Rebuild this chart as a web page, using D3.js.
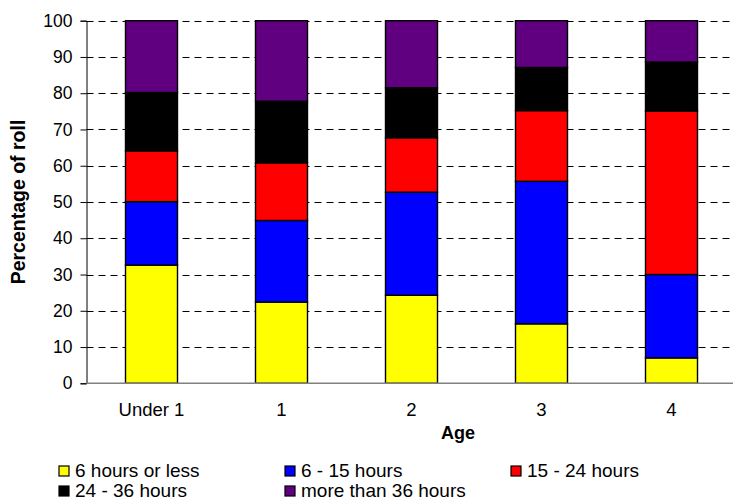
<!DOCTYPE html>
<html>
<head>
<meta charset="utf-8">
<script src="https://cdn.jsdelivr.net/npm/d3@7"></script>
<style>
body { margin: 0; background: #fff; }
svg { display: block; font-family: Arial, "Liberation Sans", sans-serif; }
</style>
</head>
<body>
<div id="chart"></div>
<script>
// Chart data
var ages = ["Under 1", "1", "2", "3", "4"];
var seriesNames = ["6 hours or less", "6 - 15 hours", "15 - 24 hours", "24 - 36 hours", "more than 36 hours"];
var seriesColors = ["#ffff00", "#0000ff", "#ff0000", "#000000", "#600080"];
var under6 = [32.6, 22.4, 24.3, 16.4, 7.0];
var h6to15 = [17.5, 22.5, 28.4, 39.3, 23.0];
var h15to24 = [14.0, 15.9, 15.0, 19.5, 45.1];
var h24to36 = [16.1, 17.0, 13.8, 11.9, 13.5];
var over36 = [19.8, 22.2, 18.5, 12.9, 11.4];
var yTicks = [0, 10, 20, 30, 40, 50, 60, 70, 80, 90, 100];

var width = 733, height = 501;
var plotLeft = 86.5, plotTop = 20.7, plotBottom = 383.3, plotRight = 736.5;

var series = [under6, h6to15, h15to24, h24to36, over36];
var rows = ages.map(function(a, i) {
    var r = {age: a};
    seriesNames.forEach(function(s, k) { r[s] = series[k][i]; });
    return r;
});
var stacked = d3.stack().keys(seriesNames)(rows);

var svg = d3.select("#chart").append("svg")
    .attr("width", width)
    .attr("height", height);

var x = d3.scaleBand().domain(ages).range([plotLeft, plotRight]).paddingInner(0.6).paddingOuter(0.3);
var y = d3.scaleLinear().domain([0, 100]).range([plotBottom, plotTop]);

// dashed gridlines
svg.append("g")
    .selectAll("line")
    .data(yTicks.filter(function(t) { return t > 0; }))
    .enter().append("line")
    .attr("x1", plotLeft)
    .attr("x2", width)
    .attr("y1", function(d) { return Math.round(y(d)) + 0.5; })
    .attr("y2", function(d) { return Math.round(y(d)) + 0.5; })
    .attr("stroke", "#000")
    .attr("stroke-width", 1)
    .attr("stroke-dasharray", "7,5");

// bars
svg.append("g")
    .selectAll("g")
    .data(stacked)
    .enter().append("g")
    .attr("fill", function(d, i) { return seriesColors[i]; })
    .selectAll("rect")
    .data(function(d) { return d; })
    .enter().append("rect")
    .attr("x", function(d) { return x(d.data.age); })
    .attr("width", x.bandwidth())
    .attr("y", function(d) { return y(d[1]); })
    .attr("height", function(d) { return y(d[0]) - y(d[1]); })
    .attr("stroke", "#000")
    .attr("stroke-width", 1.4);

// y axis
var yAxis = svg.append("g")
    .attr("transform", "translate(" + plotLeft + ",0)")
    .call(d3.axisLeft(y).tickValues(yTicks).tickSize(6).tickPadding(8));
yAxis.select(".domain").attr("stroke", "#000");
yAxis.selectAll("text").attr("font-size", 17.5).attr("fill", "#000").attr("font-family", "Arial, 'Liberation Sans', sans-serif");

// x axis
var xAxis = svg.append("g")
    .attr("transform", "translate(0," + plotBottom + ")")
    .call(d3.axisBottom(x).tickSize(0).tickPadding(20));
xAxis.select(".domain").remove();
xAxis.selectAll("text").attr("font-size", 18.5).attr("fill", "#000").attr("font-family", "Arial, 'Liberation Sans', sans-serif");
svg.append("line")
    .attr("x1", plotLeft).attr("x2", width)
    .attr("y1", plotBottom).attr("y2", plotBottom)
    .attr("stroke", "#808080").attr("stroke-width", 1.5);

// axis titles
svg.append("text")
    .attr("x", 458).attr("y", 439)
    .attr("text-anchor", "middle")
    .attr("font-size", 18).attr("font-weight", "bold")
    .text("Age");
svg.append("text")
    .attr("transform", "translate(25," + ((plotTop + plotBottom) / 2) + ") rotate(-90)")
    .attr("text-anchor", "middle")
    .attr("font-size", 19.5).attr("font-weight", "bold")
    .text("Percentage of roll");

// legend
var legendPos = [[59, 466], [285, 466], [511, 466], [59, 486], [285, 486]];
var legend = svg.append("g")
    .selectAll("g")
    .data(seriesNames)
    .enter().append("g")
    .attr("transform", function(d, i) { return "translate(" + legendPos[i][0] + "," + legendPos[i][1] + ")"; });
legend.append("rect")
    .attr("width", 10).attr("height", 10)
    .attr("fill", function(d, i) { return seriesColors[i]; })
    .attr("stroke", "#000").attr("stroke-width", 1.2);
legend.append("text")
    .attr("x", 16).attr("y", 11)
    .attr("font-size", 19)
    .text(function(d) { return d; });
</script>
</body>
</html>
